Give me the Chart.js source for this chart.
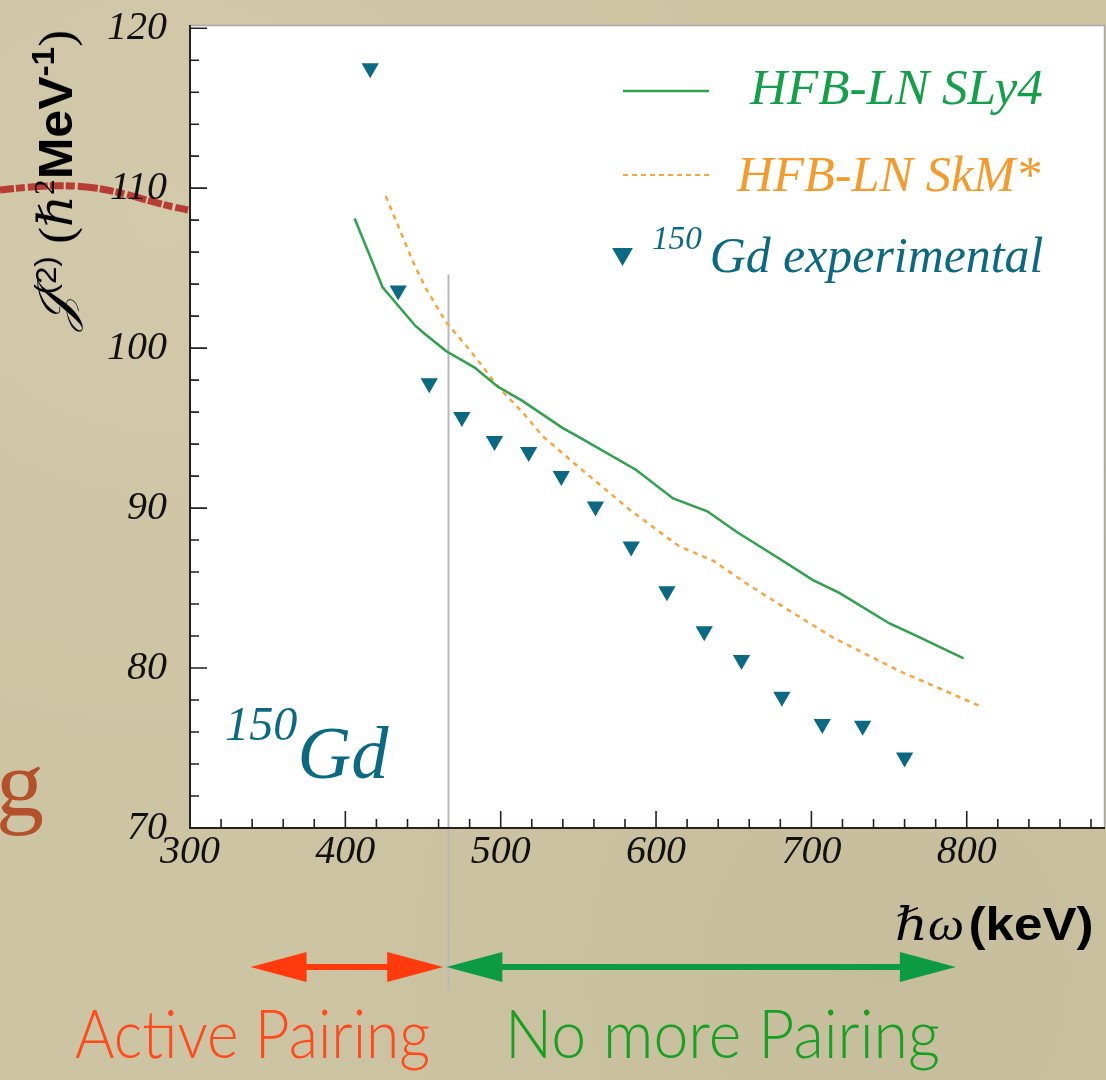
<!DOCTYPE html>
<html><head><meta charset="utf-8">
<script src="https://cdn.jsdelivr.net/npm/chart.js@4.4.1/dist/chart.umd.min.js"></script>
<style>
html,body{margin:0;padding:0}
body{width:1106px;height:1080px;overflow:hidden;position:relative;
 background: radial-gradient(ellipse at 15% 20%, rgba(255,250,230,.10), rgba(0,0,0,0) 45%), radial-gradient(ellipse at 80% 90%, rgba(90,80,50,.06), rgba(0,0,0,0) 50%), #cdc4a4;}
#c{position:absolute;left:0;top:0}
.t{position:absolute;white-space:nowrap;line-height:1;margin:0}
.serif{font-family:"Liberation Serif","DejaVu Serif",serif}
.sans{font-family:"Liberation Sans","DejaVu Sans",sans-serif}
.lato{font-family:"Lato","Open Sans",sans-serif;font-weight:300}
</style></head><body>
<svg width="1106" height="1080" style="position:absolute;left:0;top:0">
 <path d="M0 190 C 30 187, 60 183, 95 188 S 150 203, 188 210" stroke="#b3231f" stroke-width="7" fill="none" stroke-dasharray="14 2 9 3 20 2" opacity=".85"/>
</svg>
<div class="t serif" id="gdeco" style="left:-4px;top:736px;font-size:96px;color:#b4502c">g</div>
<canvas id="c" width="1106" height="1080"></canvas>

<div class="t" id="ytitle" style="left:55px;top:180px;color:#000">
 <span class="serif" style="font-size:50px;font-style:italic">𝒥</span><span class="sans" style="font-size:30px;position:relative;top:-16px">(2)</span><span class="serif" style="font-size:48px">&nbsp;(ℏ</span><span class="serif" style="font-size:30px;position:relative;top:-18px">2</span><span class="sans" style="font-size:48px;font-weight:bold">MeV</span><span class="sans" style="font-size:32px;font-weight:bold;position:relative;top:-18px">-1</span><span class="serif" style="font-size:48px">)</span>
</div>
<div class="t" id="xtitle" style="right:12px;top:901px;color:#000"><span class="serif" style="font-style:italic;font-size:46px">ℏω</span> <span class="sans" style="font-weight:bold;font-size:46px">(keV)</span></div>

<div class="t serif" id="leg1" style="right:63px;top:62px;font-size:51px;font-style:italic;color:#12a04a">HFB-LN SLy4</div>
<div class="t serif" id="leg2" style="right:66px;top:149px;font-size:51px;font-style:italic;color:#f59b2b">HFB-LN SkM*</div>
<div class="t serif" id="leg3" style="right:63px;top:230px;font-size:51px;font-style:italic;color:#0b6a82"><span style="font-size:34px;position:relative;top:-23px;margin-right:8px">150</span>Gd experimental</div>

<div class="t serif" id="gd" style="left:225px;top:716px;font-size:74px;font-style:italic;color:#0b6a82"><span style="font-size:48px;position:relative;top:-38px">150</span>Gd</div>

<div class="t lato" id="act" style="left:75px;top:999px;font-size:67px;color:#ff4a1e">Active Pairing</div>
<div class="t lato" id="nomore" style="left:505px;top:999px;font-size:67px;color:#18a022">No more Pairing</div>

<script>
// ---- data ----
const sly4Energy = [406,424,445,451,465,483,498,514,540,551,587,611,633,652,680,701,718,750,768,798];
const sly4J2     = [108.1,103.8,101.4,100.9,99.8,98.8,97.6,96.7,95.0,94.4,92.4,90.6,89.8,88.5,86.8,85.5,84.7,82.8,82.0,80.6];
const skmEnergy  = [426,435,444,452,465,480,499,514,527,551,583,615,637,658,684,714,757,809];
const skmJ2      = [109.5,107.4,105.3,103.7,101.6,99.9,97.5,96.0,94.5,92.5,89.9,87.6,86.7,85.3,83.7,81.9,79.8,77.6];
const expEnergy  = [416,434,454,475,496,518,539,561,584,607,631,655,681,707,733,760];
const expJ2      = [117.5,103.6,97.8,95.7,94.2,93.5,92.0,90.1,87.6,84.8,82.3,80.5,78.2,76.5,76.4,74.4];

const xTicks = [300,400,500,600,700,800];
const yTicks = [70,80,90,100,110,120];
const xMin = 300, xMax = 889, xMinorStep = 20;
const yMin = 70, yMax = 120.2, yMinorStep = 2;

const pairingBoundary = 466;   // keV
const boundaryTop = 104.6;     // J2 value where the marker line starts
const activeRange = [339, 463];
const noPairingRange = [465, 793];

// target plot frame (pixels)
const AREA = {left: 190, top: 25, right: 1105, bottom: 828};

// ---- helpers ----
function arrow2(ctx, x1, x2, y, color) {
  const hl = 56, hh = 15, sh = 3;
  ctx.fillStyle = color;
  ctx.beginPath(); ctx.moveTo(x1, y); ctx.lineTo(x1 + hl, y - hh); ctx.lineTo(x1 + hl, y + hh); ctx.closePath(); ctx.fill();
  ctx.beginPath(); ctx.moveTo(x2, y); ctx.lineTo(x2 - hl, y - hh); ctx.lineTo(x2 - hl, y + hh); ctx.closePath(); ctx.fill();
  ctx.fillRect(x1 + hl - 4, y - sh, (x2 - x1) - 2 * hl + 8, sh * 2);
}

const decor = {
  id: 'decor',
  beforeDraw(chart) {
    const {ctx, chartArea: a} = chart;
    ctx.save(); ctx.fillStyle = '#ffffff';
    ctx.fillRect(a.left, a.top, a.right - a.left, a.bottom - a.top);
    ctx.restore();
  },
  beforeDatasetsDraw(chart) {
    const {ctx, scales: {x, y}} = chart;
    const px = Math.round(x.getPixelForValue(pairingBoundary)) + 0.5;
    ctx.save(); ctx.strokeStyle = '#b9b9b9'; ctx.lineWidth = 2;
    ctx.beginPath(); ctx.moveTo(px, y.getPixelForValue(boundaryTop)); ctx.lineTo(px, 990); ctx.stroke();
    ctx.restore();
  },
  afterDraw(chart) {
    const {ctx, chartArea: a, scales: {x, y}} = chart;
    ctx.save();
    ctx.strokeStyle = '#a8a8a8'; ctx.lineWidth = 1.5;
    ctx.beginPath(); ctx.moveTo(a.left, a.top + 0.5); ctx.lineTo(a.right - 0.5, a.top + 0.5); ctx.lineTo(a.right - 0.5, a.bottom); ctx.stroke();
    ctx.strokeStyle = '#222'; ctx.lineWidth = 2;
    ctx.beginPath(); ctx.moveTo(a.left, a.top); ctx.lineTo(a.left, a.bottom); ctx.lineTo(a.right, a.bottom); ctx.stroke();
    ctx.lineWidth = 1.6; ctx.beginPath();
    for (let v = xMin; v <= xMax; v += xMinorStep) {
      const px = x.getPixelForValue(v); const L = xTicks.includes(v) ? 17 : 9;
      ctx.moveTo(px, a.bottom); ctx.lineTo(px, a.bottom - L);
    }
    for (let v = yMin; v <= yTicks[yTicks.length - 1]; v += yMinorStep) {
      const py = y.getPixelForValue(v); const L = yTicks.includes(v) ? 17 : 9;
      ctx.moveTo(a.left, py); ctx.lineTo(a.left + L, py);
    }
    ctx.stroke();
    // legend samples
    const d = chart.data.datasets;
    ctx.setLineDash([]); ctx.strokeStyle = d[0].borderColor; ctx.lineWidth = d[0].borderWidth;
    ctx.beginPath(); ctx.moveTo(623, 91); ctx.lineTo(709, 91); ctx.stroke();
    ctx.setLineDash([5, 4]); ctx.strokeStyle = d[1].borderColor; ctx.lineWidth = 2;
    ctx.beginPath(); ctx.moveTo(623, 175); ctx.lineTo(709, 175); ctx.stroke();
    ctx.setLineDash([]);
    const r = 12, cx = 622.5, cy = 254;
    ctx.fillStyle = d[2].backgroundColor;
    ctx.beginPath(); ctx.moveTo(cx, cy + r); ctx.lineTo(cx - r * 0.866, cy - r / 2); ctx.lineTo(cx + r * 0.866, cy - r / 2); ctx.closePath(); ctx.fill();
    // range arrows
    arrow2(ctx, x.getPixelForValue(activeRange[0]), x.getPixelForValue(activeRange[1]), 967, '#ff3a0c');
    arrow2(ctx, x.getPixelForValue(noPairingRange[0]), x.getPixelForValue(noPairingRange[1]), 967, '#0c9a42');
    ctx.restore();
  }
};

const tickFont = {family: '"Liberation Serif", "DejaVu Serif", serif', style: 'italic', size: 40, lineHeight: 1.2};
const pad = {left: 0, top: 25, right: 1, bottom: 192};

const chart = new Chart(document.getElementById('c'), {
  type: 'scatter',
  data: {
    datasets: [
      {label: 'HFB-LN SLy4', data: sly4Energy.map((e, i) => ({x: e, y: sly4J2[i]})), showLine: true,
       borderColor: '#2ea24c', borderWidth: 2.5, pointRadius: 0, tension: 0, fill: false},
      {label: 'HFB-LN SkM*', data: skmEnergy.map((e, i) => ({x: e, y: skmJ2[i]})), showLine: true,
       borderColor: '#f8a63e', borderWidth: 2.5, borderDash: [5, 5], pointRadius: 0, tension: 0, fill: false},
      {label: '150Gd experimental', data: expEnergy.map((e, i) => ({x: e, y: expJ2[i]})), showLine: false,
       pointStyle: 'triangle', rotation: 180, pointRadius: 10, backgroundColor: '#0b6a82', borderColor: '#0b6a82', borderWidth: 0}
    ]
  },
  options: {
    responsive: false, animation: false, devicePixelRatio: 1,
    layout: {autoPadding: false, padding: Object.assign({}, pad)},
    plugins: {legend: {display: false}, tooltip: {enabled: false}},
    scales: {
      x: {type: 'linear', min: xMin, max: xMax,
        afterFit(s) { s.height = 60; s.paddingLeft = 0; s.paddingRight = 0; s.paddingTop = 0; s.paddingBottom = 0; },
        afterBuildTicks(s) { s.ticks = xTicks.map(v => ({value: v})); },
        grid: {display: false, drawTicks: false}, border: {display: false},
        ticks: {padding: 0, color: '#111', font: tickFont, maxRotation: 0, autoSkip: false}},
      y: {type: 'linear', min: yMin, max: yMax,
        afterFit(s) { s.width = 190; s.paddingLeft = 0; s.paddingRight = 0; s.paddingTop = 0; s.paddingBottom = 0; },
        afterBuildTicks(s) { s.ticks = yTicks.map(v => ({value: v})); },
        grid: {display: false, drawTicks: false}, border: {display: false},
        ticks: {padding: 23, color: '#111', font: tickFont, autoSkip: false}}
    }
  },
  plugins: [decor]
});

// correct the layout padding so the plot frame lands where it is in the reference
for (let i = 0; i < 4; i++) {
  const a = chart.chartArea;
  const dl = AREA.left - a.left, dt = AREA.top - a.top, dr = a.right - AREA.right, db = a.bottom - AREA.bottom;
  if (Math.abs(dl) + Math.abs(dt) + Math.abs(dr) + Math.abs(db) < 0.5) break;
  pad.left += dl; pad.top += dt; pad.right += dr; pad.bottom += db;
  chart.config.options.layout.padding = Object.assign({}, pad);
  chart.update('none');
}

// fit overlay texts to the widths measured on the reference
function fit(id, w, origin, pre) {
  const el = document.getElementById(id);
  const k = w / el.offsetWidth;
  el.style.transformOrigin = origin;
  el.style.transform = (pre || '') + ' scaleX(' + k + ')';
}
fit('leg1', 293, 'right top');
fit('leg2', 303, 'right top');
fit('leg3', 391, 'right top');
fit('gd', 163, 'left top');
fit('act', 355, 'left top');
fit('nomore', 435, 'left top');
fit('xtitle', 199, 'right top');
fit('ytitle', 300, 'center center', 'translate(-50%,-50%) rotate(-90deg)');
</script>
</body></html>
